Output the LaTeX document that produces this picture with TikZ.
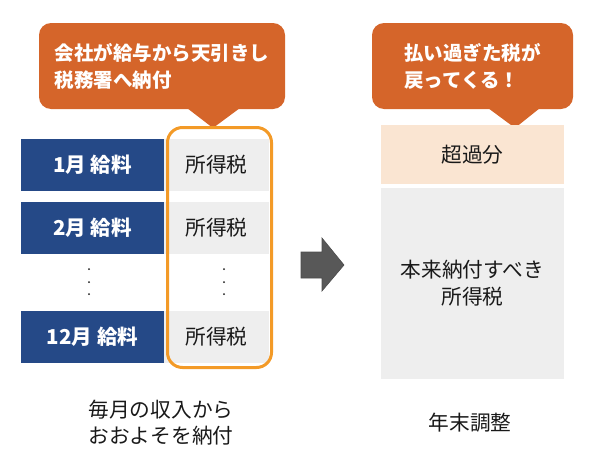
\documentclass[tikz,border=0pt]{standalone}
\usepackage{fontspec}
\setmainfont{Noto Sans CJK JP}
\definecolor{calloutorange}{RGB}{213,101,42}
\definecolor{frameorange}{RGB}{243,154,39}
\definecolor{salaryblue}{RGB}{37,73,135}
\definecolor{taxgray}{RGB}{238,238,238}
\definecolor{excesspeach}{RGB}{250,229,210}
\definecolor{arrowgray}{RGB}{88,88,88}
\definecolor{textdark}{RGB}{25,25,25}
\begin{document}
\begin{tikzpicture}[x=1pt, y=-1pt,
    every node/.style={font=\fontsize{20.7}{26}\selectfont, text=textdark},
    callout/.style={fill=calloutorange, rounded corners=12pt, inner sep=0pt},
    callouttext/.style={text=white, font=\fontsize{19.5}{27}\selectfont\bfseries, align=left, inner sep=0pt},
    salary/.style={fill=salaryblue, text=white, font=\fontsize{20.5}{26}\selectfont\bfseries,
        minimum width=143pt, minimum height=52pt, inner sep=0pt},
    tax/.style={fill=taxgray, minimum width=105pt, minimum height=52pt, inner sep=0pt},
    dot/.style={circle, fill=textdark, inner sep=0pt, minimum size=2pt}]
    \useasboundingbox (0,0) rectangle (600,466);

    % --- left callout ---
    \node[callout, minimum width=246pt, minimum height=86pt] (callL) at (162,66) {};
    \fill[calloutorange] (187,108) -- (213,128) -- (240,108) -- cycle;
    \node[callouttext] (callLtext) at (callL.center) {会社が給与から天引きし\\税務署へ納付};

    % --- monthly salary and tax ---
    \node[salary] (sal1) at (92.5,165) {1月 給料};
    \node[tax] (tax1) at (216.5,165) {所得税};
    \node[salary] (sal2) at (92.5,227.5) {2月 給料};
    \node[tax] (tax2) at (216.5,227.5) {所得税};
    \node[salary] (sal12) at (92.5,336.5) {12月 給料};
    \node[tax] (tax12) at (216.5,336.5) {所得税};
    \foreach \y in {269,282,294} {
        \node[dot] at (89,\y) {};
        \node[dot] at (224,\y) {};
    }
    \draw[frameorange, line width=3pt, rounded corners=15pt] (167.5,127.5) rectangle (271.5,367.5);

    \node[align=center] (monthly) at (161,422.5) {毎月の収入から\\おおよそを納付};

    % --- arrow ---
    \filldraw[fill=arrowgray, draw=black!70, line width=0.6pt]
        (301,252) -- (322,252) -- (322,238) -- (344,265) -- (322,291) -- (322,278) -- (301,278) -- cycle;

    % --- right callout ---
    \node[callout, minimum width=201pt, minimum height=86pt] (callR) at (472.5,66) {};
    \fill[calloutorange] (488,108) -- (515,128) -- (540,108) -- cycle;
    \node[callouttext] (callRtext) at (callR.center) {払い過ぎた税が\\戻ってくる！};

    % --- year end adjustment ---
    \node[fill=excesspeach, minimum width=183pt, minimum height=59pt, inner sep=0pt] (excess) at (472.5,154.5) {超過分};
    \node[fill=taxgray, minimum width=183pt, minimum height=191pt, inner sep=0pt, align=center,
        font=\fontsize{20.7}{27}\selectfont] (proper) at (472.5,283.5) {本来納付すべき\\所得税};

    \node (yearend) at (470,423) {年末調整};
\end{tikzpicture}
\end{document}
